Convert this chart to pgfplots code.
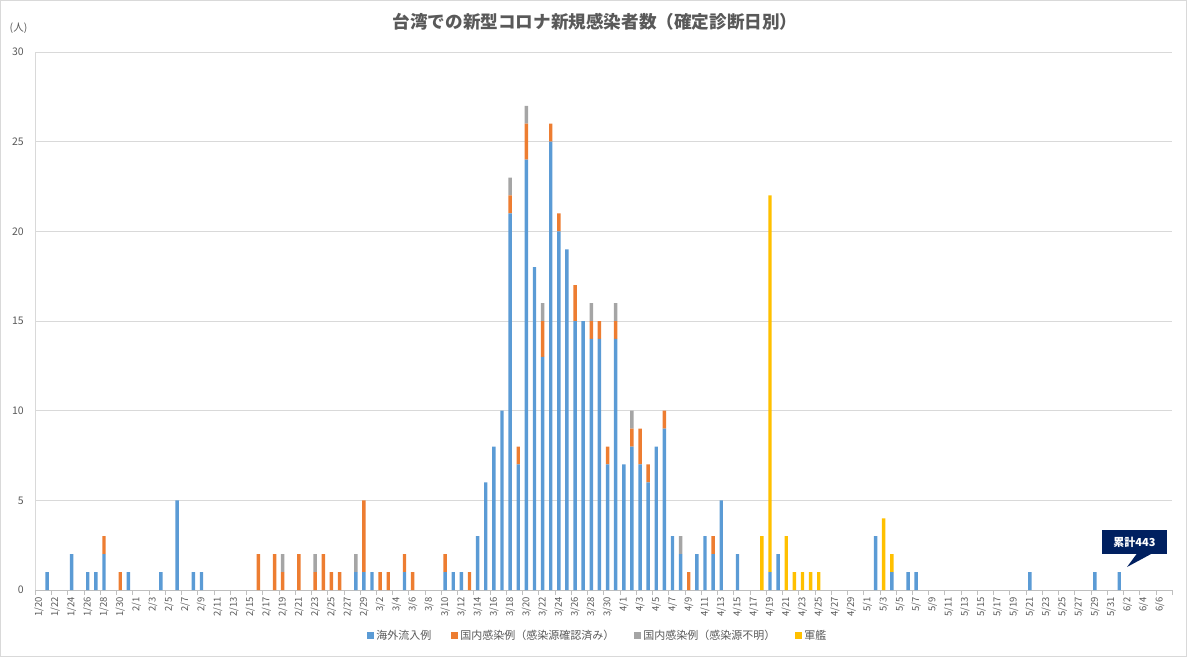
\documentclass[border=0pt]{standalone}
\usepackage{fontspec}
\setmainfont{Noto Sans CJK JP}
\usepackage{pgfplots}
\usepackage{pgfplotstable}
\pgfplotsset{compat=1.18}

\definecolor{cBlue}{HTML}{5B9BD5}
\definecolor{cOrange}{HTML}{ED7D31}
\definecolor{cGray}{HTML}{A5A5A5}
\definecolor{cYellow}{HTML}{FFC000}
\definecolor{cText}{HTML}{595959}
\definecolor{cGrid}{HTML}{D9D9D9}
\definecolor{cAxis}{HTML}{BFBFBF}
\definecolor{cNavy}{HTML}{002060}

% day index (0 = 1/20), imported, local (known), local (unknown), navy ship
\pgfplotstableread{
i   blue orange gray yellow
1   1  0 0 0
4   2  0 0 0
6   1  0 0 0
7   1  0 0 0
8   2  1 0 0
10  0  1 0 0
11  1  0 0 0
15  1  0 0 0
17  5  0 0 0
19  1  0 0 0
20  1  0 0 0
27  0  2 0 0
29  0  2 0 0
30  0  1 1 0
32  0  2 0 0
34  0  1 1 0
35  0  2 0 0
36  0  1 0 0
37  0  1 0 0
39  1  0 1 0
40  1  4 0 0
41  1  0 0 0
42  0  1 0 0
43  0  1 0 0
45  1  1 0 0
46  0  1 0 0
50  1  1 0 0
51  1  0 0 0
52  1  0 0 0
53  0  1 0 0
54  3  0 0 0
55  6  0 0 0
56  8  0 0 0
57  10 0 0 0
58  21 1 1 0
59  7  1 0 0
60  24 2 1 0
61  18 0 0 0
62  13 2 1 0
63  25 1 0 0
64  20 1 0 0
65  19 0 0 0
66  15 2 0 0
67  15 0 0 0
68  14 1 1 0
69  14 1 0 0
70  7  1 0 0
71  14 1 1 0
72  7  0 0 0
73  8  1 1 0
74  7  2 0 0
75  6  1 0 0
76  8  0 0 0
77  9  1 0 0
78  3  0 0 0
79  2  0 1 0
80  0  1 0 0
81  2  0 0 0
82  3  0 0 0
83  2  1 0 0
84  5  0 0 0
86  2  0 0 0
89  0  0 0 3
90  1  0 0 21
91  2  0 0 0
92  0  0 0 3
93  0  0 0 1
94  0  0 0 1
95  0  0 0 1
96  0  0 0 1
103 3  0 0 0
104 0  0 0 4
105 1  0 0 1
107 1  0 0 0
108 1  0 0 0
122 1  0 0 0
130 1  0 0 0
133 1  0 0 0
}\datatable

\begin{document}
\begin{tikzpicture}[x=1pt,y=1pt]
\draw[cGrid, line width=0.8pt] (0.5,0.5) rectangle (1186.5,656.5);
\node[font=\fontsize{17.6}{20}\selectfont\bfseries, text=cText] at (595,635) {台湾での新型コロナ新規感染者数（確定診断日別）};
\node[font=\fontsize{10.5}{12}\selectfont, text=cText] at (18.5,629) {(人)};

\begin{axis}[
    at={(35pt,67pt)}, anchor=south west,
    scale only axis, width=1137pt, height=538pt,
    ybar stacked, bar width=0.42,
    xmin=-0.5, xmax=139.5, ymin=0, ymax=30,
    ytick={0,5,...,30},
    xtick={0,2,...,138},
    xticklabels={1/20,1/22,1/24,1/26,1/28,1/30,2/1,2/3,2/5,2/7,2/9,2/11,2/13,2/15,2/17,2/19,2/21,2/23,2/25,2/27,2/29,3/2,3/4,3/6,3/8,3/10,3/12,3/14,3/16,3/18,3/20,3/22,3/24,3/26,3/28,3/30,4/1,4/3,4/5,4/7,4/9,4/11,4/13,4/15,4/17,4/19,4/21,4/23,4/25,4/27,4/29,5/1,5/3,5/5,5/7,5/9,5/11,5/13,5/15,5/17,5/19,5/21,5/23,5/25,5/27,5/29,5/31,6/2,6/4,6/6},
    minor xtick={-0.5,1.5,...,139.5},
    tick align=outside,
    major tick length=0pt, minor tick length=5pt,
    xtick style={draw=cAxis}, ytick style={draw=none},
    axis x line*=bottom, axis y line*=left,
    x axis line style={draw=cAxis, -}, y axis line style={draw=cGrid, -},
    ymajorgrids, grid style={draw=cGrid, line width=0.8pt},
    /pgf/number format/assume math mode=true,
    xticklabel style={rotate=90, anchor=east, font=\fontsize{9.5}{11}\selectfont, text=cText, inner xsep=7pt, inner ysep=0pt},
    yticklabel style={font=\fontsize{10.5}{12}\selectfont, text=cText, inner xsep=0pt, xshift=-11pt},
    legend image code/.code={\fill[#1] (0pt,-3.5pt) rectangle (7pt,3.5pt);},
    legend columns=4,
    legend style={at={(0.495,-0.0855)}, anchor=center, draw=none, fill=none,
        font=\fontsize{11}{13}\selectfont, text=cText,
        /tikz/every even column/.append style={column sep=18pt}},
]
\addplot[fill=cBlue, draw=none] table[x=i, y=blue] {\datatable};
\addlegendentry{海外流入例}
\addplot[fill=cOrange, draw=none] table[x=i, y=orange] {\datatable};
\addlegendentry{国内感染例（感染源確認済み）}
\addplot[fill=cGray, draw=none] table[x=i, y=gray] {\datatable};
\addlegendentry{国内感染例（感染源不明）}
\addplot[fill=cYellow, draw=none] table[x=i, y=yellow] {\datatable};
\addlegendentry{軍艦}
\end{axis}

% callout
\fill[cNavy] (1102,103) rectangle (1167,127);
\fill[cNavy] (1137,103.5) -- (1152,103.5) -- (1127,90) -- cycle;
\node[font=\fontsize{11}{13}\selectfont\bfseries, text=white] at (1134.5,115) {累計443};

\pgfresetboundingbox
\useasboundingbox (0,0) rectangle (1187,657);
\end{tikzpicture}
\end{document}
